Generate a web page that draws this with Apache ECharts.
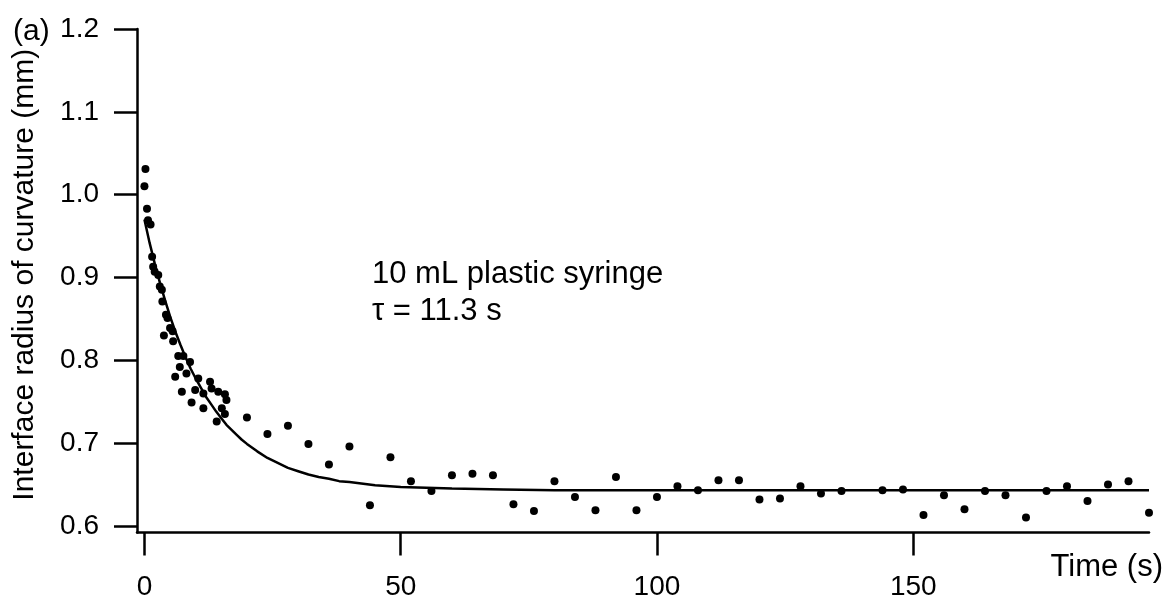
<!DOCTYPE html>
<html>
<head>
<meta charset="utf-8">
<title>Interface radius of curvature</title>
<script src="https://cdn.jsdelivr.net/npm/echarts@6/dist/echarts.min.js"></script>
<style>
  html, body { margin: 0; padding: 0; background: #fff; }
  #chart { width: 1176px; height: 603px; }
</style>
</head>
<body>
<div id="chart"></div>
<script>
// measured points (s, mm)
var timeObs = [0.0, 0.2, 0.5, 0.7, 1.2, 1.5, 1.7, 2.0, 2.7, 3.0, 3.4, 3.5, 3.8, 4.2, 4.5, 5.0, 5.5, 5.6, 6.0, 6.6,
  6.9, 7.3, 7.6, 8.2, 8.9, 9.2, 9.9, 10.5, 11.5, 11.5, 12.8, 13.1, 14.1, 14.4, 15.1, 15.7, 15.7, 16.0,
  20, 24, 28, 32, 36, 40, 44, 48, 52, 56, 60, 64, 68, 72, 76, 80, 84, 88, 92, 96, 100, 104, 108, 112, 116,
  120, 124, 128, 132, 136, 144, 148, 152, 156, 160, 164, 168, 172, 176, 180, 184, 188, 192, 196];
var radiusObs = [1.010, 1.031, 0.983, 0.969, 0.964, 0.925, 0.913, 0.907, 0.903, 0.889, 0.885, 0.871, 0.830, 0.855, 0.851, 0.839, 0.835, 0.823, 0.780, 0.805,
  0.792, 0.762, 0.805, 0.784, 0.798, 0.749, 0.764, 0.778, 0.760, 0.742, 0.774, 0.766, 0.726, 0.762, 0.742, 0.759, 0.735, 0.752,
  0.731, 0.711, 0.721, 0.699, 0.674, 0.696, 0.625, 0.683, 0.654, 0.642, 0.661, 0.663, 0.661, 0.626, 0.618, 0.654, 0.635, 0.619, 0.659, 0.619, 0.635, 0.648, 0.643, 0.655, 0.655,
  0.632, 0.633, 0.648, 0.639, 0.642, 0.643, 0.644, 0.613, 0.637, 0.620, 0.642, 0.637, 0.610, 0.642, 0.648, 0.630, 0.650, 0.654, 0.616];

// fitted curve
var timeFit = [0, 1, 2, 3, 4, 5, 6, 7, 8, 9, 10, 11, 12, 13, 14, 15, 16, 17, 18, 19, 20,
  22, 24, 26, 28, 30, 32, 34, 36, 38, 40, 45, 50, 55, 60, 70, 80, 100, 196];
var radiusFit = [0.970, 0.942, 0.917, 0.894, 0.873, 0.853, 0.835, 0.819, 0.804, 0.790, 0.778, 0.767, 0.756, 0.747, 0.738, 0.730, 0.722, 0.716, 0.710, 0.704, 0.699,
  0.690, 0.682, 0.676, 0.670, 0.666, 0.662, 0.659, 0.657, 0.654, 0.653, 0.649, 0.647, 0.646, 0.645, 0.644, 0.643, 0.643, 0.643];

var xTicks = [0, 50, 100, 150];
var yTicks = [0.6, 0.7, 0.8, 0.9, 1.0, 1.1, 1.2];

var font = "'Liberation Sans', Arial, sans-serif";
var ink = '#000';

var chart = echarts.init(document.getElementById('chart'));

var obs = timeObs.map(function (t, i) { return [t, radiusObs[i]]; });
var fit = timeFit.map(function (t, i) { return [t, radiusFit[i]]; });

var option = {
  animation: false,
  backgroundColor: '#fff',
  title: {
    text: '(a)',
    left: 8,
    top: 12,
    textStyle: { fontFamily: font, fontSize: 30, fontWeight: 'normal', color: ink }
  },
  grid: { left: 137, right: 27, top: 29, bottom: 70.5, outerBoundsMode: 'none', containLabel: false },
  xAxis: {
    type: 'value',
    min: -1.45,
    max: 196,
    name: 'Time (s)',
    nameLocation: 'end',
    nameGap: 14,
    nameTextStyle: { fontFamily: font, fontSize: 31, color: ink, align: 'right', verticalAlign: 'top', padding: [19, 0, 0, 0] },
    axisLine: { onZero: false, lineStyle: { color: ink, width: 2.5 } },
    axisTick: { customValues: xTicks, length: 23, lineStyle: { color: ink, width: 2.5 } },
    axisLabel: { customValues: xTicks, margin: 41, fontFamily: font, fontSize: 28, color: ink },
    splitLine: { show: false }
  },
  yAxis: {
    type: 'value',
    min: 0.592,
    max: 1.2,
    name: 'Interface radius of curvature (mm)',
    nameLocation: 'middle',
    nameGap: 97,
    nameTextStyle: { fontFamily: font, fontSize: 30, color: ink, padding: [0, 0, 0, 12] },
    axisLine: { onZero: false, lineStyle: { color: ink, width: 2.5 } },
    axisTick: { customValues: yTicks, length: 23, lineStyle: { color: ink, width: 2.5 } },
    axisLabel: {
      customValues: yTicks, margin: 38, fontFamily: font, fontSize: 28, color: ink,
      formatter: function (v) { return v.toFixed(1); }
    },
    splitLine: { show: false }
  },
  graphic: [{
    type: 'text',
    left: 372,
    top: 256,
    style: {
      text: '10 mL plastic syringe\nτ = 11.3 s',
      font: '31px ' + font,
      lineHeight: 37,
      fill: ink
    }
  }],
  series: [
    {
      type: 'line',
      data: fit,
      smooth: false,
      showSymbol: false,
      lineStyle: { color: ink, width: 2.5 },
      z: 2
    },
    {
      type: 'scatter',
      data: obs,
      symbol: 'circle',
      symbolSize: 8,
      itemStyle: { color: ink, opacity: 1 },
      z: 3
    }
  ]
};

chart.setOption(option);
</script>
</body>
</html>
